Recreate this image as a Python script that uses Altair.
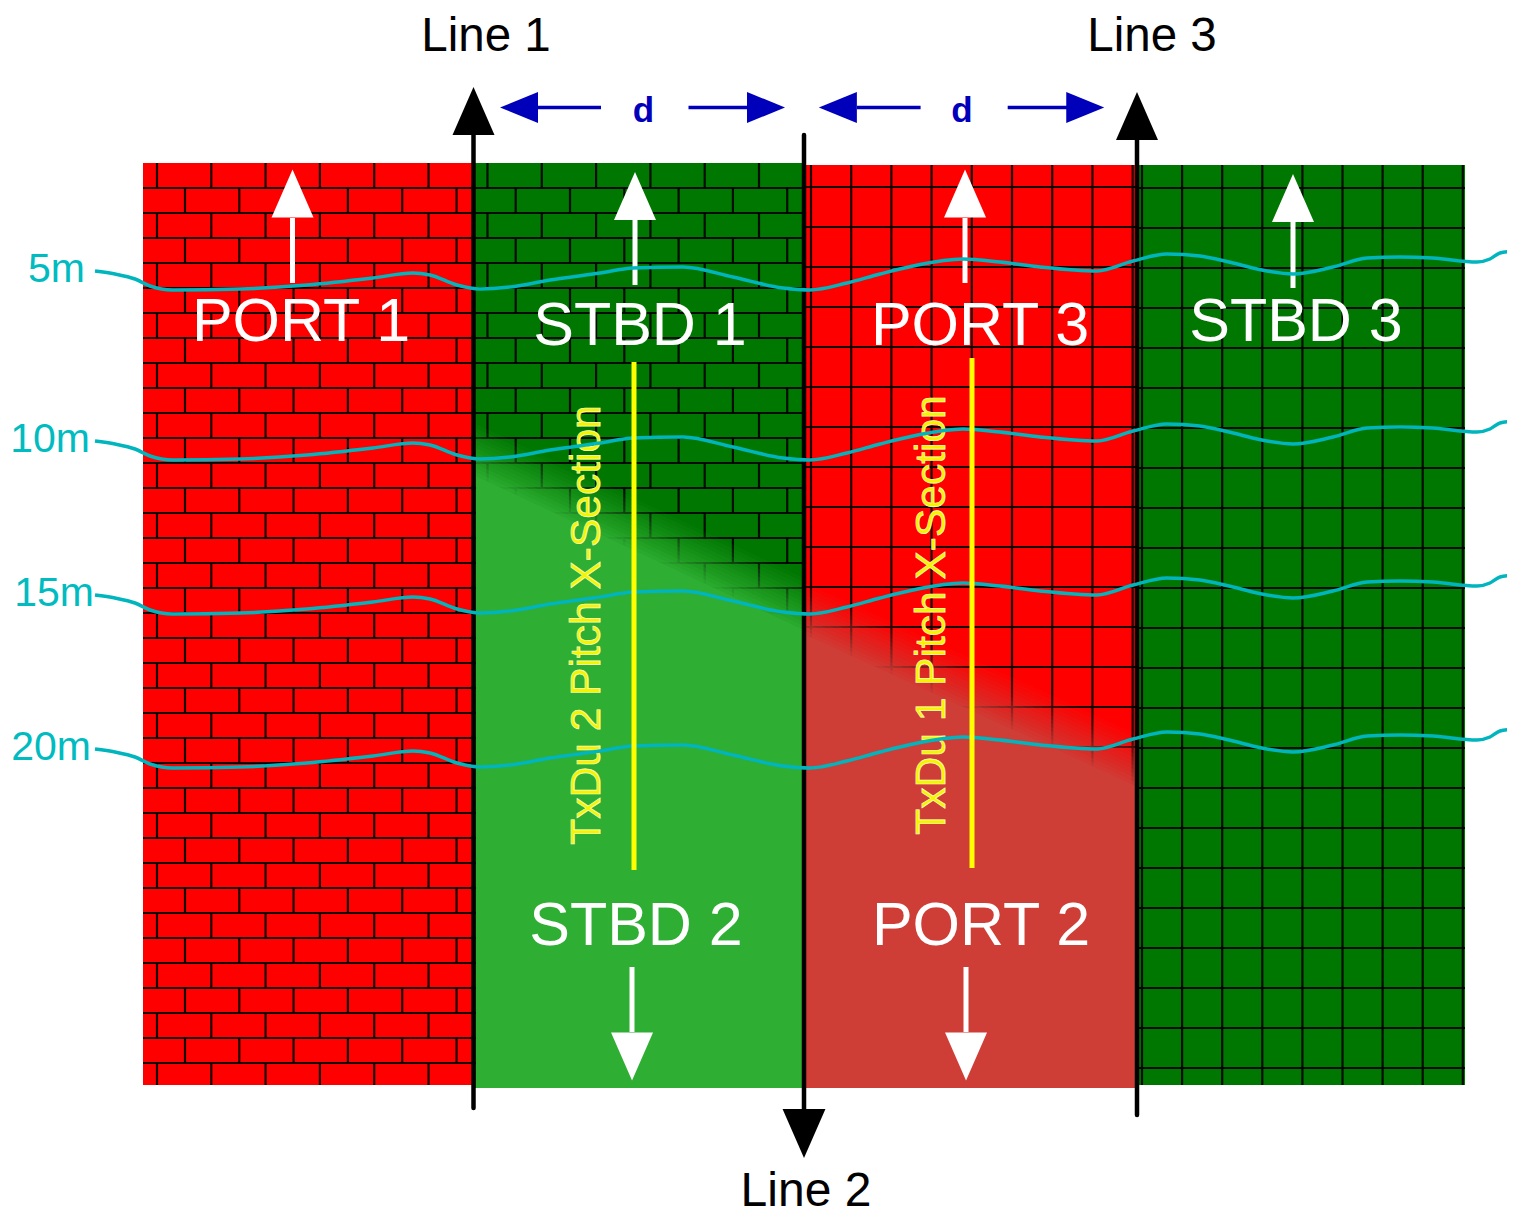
import altair as alt
import pandas as pd

# ---------------- coordinate frame (diagram pixels) ----------------
X_DOMAIN = [8, 1507]
Y_DOMAIN = [8, 1217]

# ---------------- zones / panels ----------------
panel_x0 = [143, 474, 805, 1137]
panel_x1 = [473, 804, 1136, 1465]
panel_y0 = [163, 163, 165, 165]
panel_y1 = [1085, 1088, 1088, 1085]
panel_fill = ["#ff0000", "#007700", "#ff0000", "#007700"]

# brick texture (PORT 1, STBD 1)
brick_panels = [0, 1]
brick_row_h = 25
brick_first_line = 188
brick_w = 54.3
brick_offsets = [(157, 185), (487.5, 515.7)]

# square-grid texture (PORT 3, STBD 3)
grid_panels = [2, 3]
grid_x_start = [811, 1142]
grid_step_x = [40.2, 40.1]
grid_y_start = [187, 188]
grid_step_y = 40

# lighter lower zones (STBD 2, PORT 2) with a soft diagonal edge
fade_x = [[476, 804], [806, 1136]]
fade_center = [[450, 604], [609, 760]]
fade_bottom = [1088, 1088]
fade_color = ["#2eae32", "#cf3e36"]
fade_half = 26
fade_steps = 14

# zone labels
zone_labels = ["PORT 1", "STBD 1", "PORT 3", "STBD 3", "STBD 2", "PORT 2"]
zone_label_x = [301, 640, 980, 1296, 636, 981]
zone_label_y = [341, 345, 345, 341, 945, 945]

# white direction arrows
up_arrow_x = [292.5, 635, 965, 1293]
up_arrow_tip = [169, 172, 169, 174]
up_arrow_base = [218, 220, 218, 222]
up_arrow_end = [283, 285, 283, 288]
down_arrow_x = [632, 966]
down_arrow_start = [967, 967]
down_arrow_base = [1032, 1032]
down_arrow_tip = [1081, 1081]

# survey lines
line_labels = ["Line 1", "Line 2", "Line 3"]
line_x = [473.5, 804, 1137]
line_top = [135, 135, 140]
line_bottom = [1108, 1109, 1115]
line_label_x = [486, 806, 1152]
line_label_y = [51, 1206, 51]
line_label_size = [47.5, 48, 47.5]
up_head_lines = [0, 2]
up_head_tip = [87, 92]
up_head_base = [135, 140]
down_head_line = 1
down_head_base = 1109
down_head_tip = 1158

# spacing "d" arrows
d_y = 107.5
d_label_x = [643.5, 962]
d_left_tip = [500, 818.7]
d_left_base = [538, 857]
d_left_end = [601, 920.6]
d_right_start = [688.5, 1007.7]
d_right_base = [747, 1067.5]
d_right_tip = [785, 1103]

# pitch cross-section lines
pitch_labels = ["TxDu 2 Pitch X-Section", "TxDu 1 Pitch X-Section"]
pitch_x = [634, 972]
pitch_y0 = [362, 358]
pitch_y1 = [870, 868]
pitch_label_x = [600, 945]
pitch_label_y = [625, 615]

# depth contours (5 m profile, other depths share the shape)
depth_labels = ["5m", "10m", "15m", "20m"]
depth_shift = [0, 170, 324, 478]
depth_label_x = [85, 90, 94, 91]
depth_label_y = [282, 452, 606, 760]
wave_x = [95, 115, 135, 150, 173, 240, 307, 373, 413, 430, 457, 480, 510, 550,
          600, 633, 683, 733, 783, 810, 847, 880, 913, 963, 1000, 1040, 1097,
          1133, 1167, 1200, 1233, 1267, 1293, 1333, 1367, 1400, 1433, 1477,
          1490, 1500, 1515]
wave_y = [271, 274, 279, 286, 290, 289, 285, 278, 273, 275, 285, 289, 287, 280,
          273, 268, 267, 277, 288, 290, 283, 274, 266, 259, 262, 267, 271,
          261, 254, 256, 263, 271, 274, 267, 258, 257, 258, 262,
          259, 253, 251]

FONT = "Liberation Sans"

# ---------------- data tables ----------------
panels_df = pd.DataFrame(dict(x=panel_x0, x2=panel_x1, y=panel_y0, y2=panel_y1, c=panel_fill))

tex_h, tex_v = [], []
for pi, (oe, oo) in zip(brick_panels, brick_offsets):
    x0, x1, y0, y1 = panel_x0[pi], panel_x1[pi], panel_y0[pi], panel_y1[pi]
    bounds = [y0]
    yy = brick_first_line
    while yy < y1 - 3:
        bounds.append(yy)
        yy += brick_row_h
    bounds.append(y1)
    for yy in bounds[1:-1]:
        tex_h.append(dict(x=x0, x2=x1, y=yy))
    for r in range(len(bounds) - 1):
        off = oe if r % 2 == 0 else oo
        xx = off
        while xx - brick_w > x0:
            xx -= brick_w
        while xx < x1 - 2:
            if xx > x0 + 2:
                tex_v.append(dict(x=xx, y=bounds[r], y2=bounds[r + 1]))
            xx += brick_w
for gi, pi in enumerate(grid_panels):
    x0, x1, y0, y1 = panel_x0[pi], panel_x1[pi], panel_y0[pi], panel_y1[pi]
    xx = grid_x_start[gi]
    while xx <= x1:
        tex_v.append(dict(x=xx, y=y0, y2=y1))
        xx += grid_step_x[gi]
    yy = grid_y_start[gi]
    while yy < y1:
        tex_h.append(dict(x=x0, x2=x1, y=yy))
        yy += grid_step_y
tex_h_df = pd.DataFrame(tex_h)
tex_v_df = pd.DataFrame(tex_v)

fade_dfs = []
for z in range(2):
    rows = []
    for k in range(fade_steps):
        o = -fade_half + 2 * fade_half * k / (fade_steps - 1)
        a = 1.0 / (fade_steps - k)
        for xi in range(2):
            rows.append(dict(layer=k, x=fade_x[z][xi], y=fade_center[z][xi] + o,
                             y2=fade_bottom[z], a=a))
    fade_dfs.append(pd.DataFrame(rows))

wave_rows = []
for lab, s in zip(depth_labels, depth_shift):
    for i, (xv, yv) in enumerate(zip(wave_x, wave_y)):
        wave_rows.append(dict(depth=lab, i=i, x=xv, y=yv + s))
wave_df = pd.DataFrame(wave_rows)

# ---------------- encoders ----------------
xs = alt.Scale(domain=X_DOMAIN, nice=False, zero=False)
ys = alt.Scale(domain=Y_DOMAIN, nice=False, zero=False, reverse=True)


def X(f="x"):
    return alt.X(f + ":Q", scale=xs, axis=None)


def Y(f="y"):
    return alt.Y(f + ":Q", scale=ys, axis=None, stack=None)


UP_HEAD_W = "M-0.875,1L0,-1L0.875,1Z"
DOWN_HEAD_W = "M-0.875,-1L0,1L0.875,-1Z"
LEFT_HEAD = "M-1,0L1,-0.816L1,0.816Z"
RIGHT_HEAD = "M1,0L-1,-0.816L-1,0.816Z"

layers = []

# panels
layers.append(alt.Chart(panels_df).mark_rect().encode(
    x=X(), x2="x2:Q", y=Y(), y2="y2:Q",
    color=alt.Color("c:N", scale=None)))

# textures
layers.append(alt.Chart(tex_h_df).mark_rule(color="#000000", strokeWidth=2.2, opacity=0.9).encode(
    x=X(), x2="x2:Q", y=Y()))
layers.append(alt.Chart(tex_v_df).mark_rule(color="#000000", strokeWidth=2.2, opacity=0.9).encode(
    x=X(), y=Y(), y2="y2:Q"))

# fading light zones
for z in range(2):
    layers.append(alt.Chart(fade_dfs[z]).mark_area(color=fade_color[z], interpolate="linear").encode(
        x=X(), y=Y(), y2="y2:Q", detail="layer:N",
        opacity=alt.Opacity("a:Q", scale=None)))

# white arrows
ua = pd.DataFrame(dict(x=up_arrow_x, y=up_arrow_base, y2=up_arrow_end,
                       ym=[(a + b) / 2 for a, b in zip(up_arrow_tip, up_arrow_base)]))
da = pd.DataFrame(dict(x=down_arrow_x, y=down_arrow_start, y2=down_arrow_base,
                       ym=[(a + b) / 2 for a, b in zip(down_arrow_tip, down_arrow_base)]))
for df, shp in [(ua, UP_HEAD_W), (da, DOWN_HEAD_W)]:
    layers.append(alt.Chart(df).mark_rule(color="white", strokeWidth=5).encode(
        x=X(), y=Y(), y2="y2:Q"))
    layers.append(alt.Chart(df).mark_point(shape=shp, size=48 * 48, filled=True, color="white",
                                           opacity=1, strokeWidth=0).encode(x=X(), y=Y("ym")))

# zone labels
zl = pd.DataFrame(dict(x=zone_label_x, y=zone_label_y, t=zone_labels))
layers.append(alt.Chart(zl).mark_text(font=FONT, fontSize=61, color="white", align="center",
                                      baseline="alphabetic").encode(x=X(), y=Y(), text="t:N"))

# pitch labels
pl = pd.DataFrame(dict(x=pitch_label_x, y=pitch_label_y, t=pitch_labels))
layers.append(alt.Chart(pl).mark_text(font=FONT, fontSize=42.5, color="#f4f400", stroke="#ffffc0",
                                      strokeWidth=0.7, angle=270, align="center",
                                      baseline="alphabetic").encode(x=X(), y=Y(), text="t:N"))

# survey lines
ld = pd.DataFrame(dict(x=line_x, y=line_top, y2=line_bottom))
layers.append(alt.Chart(ld).mark_rule(color="black", strokeWidth=4.5, strokeCap="round").encode(
    x=X(), y=Y(), y2="y2:Q"))
uh = pd.DataFrame(dict(x=[line_x[i] for i in up_head_lines],
                       ym=[(a + b) / 2 for a, b in zip(up_head_tip, up_head_base)]))
layers.append(alt.Chart(uh).mark_point(shape=UP_HEAD_W, size=48 * 48, filled=True, color="black",
                                       opacity=1, strokeWidth=0).encode(x=X(), y=Y("ym")))
dh = pd.DataFrame(dict(x=[line_x[down_head_line]], ym=[(down_head_base + down_head_tip) / 2]))
layers.append(alt.Chart(dh).mark_point(shape=DOWN_HEAD_W, size=49 * 49, filled=True, color="black",
                                       opacity=1, strokeWidth=0).encode(x=X(), y=Y("ym")))

# depth contours
layers.append(alt.Chart(wave_df).mark_line(color="#00b5bd", strokeWidth=3.5, interpolate="monotone").encode(
    x=X(), y=Y(), detail="depth:N", order="i:Q"))

# pitch lines
pd_ = pd.DataFrame(dict(x=pitch_x, y=pitch_y0, y2=pitch_y1))
layers.append(alt.Chart(pd_).mark_rule(color="#ffff00", strokeWidth=5).encode(x=X(), y=Y(), y2="y2:Q"))

# depth labels
dl = pd.DataFrame(dict(x=depth_label_x, y=depth_label_y, t=depth_labels))
layers.append(alt.Chart(dl).mark_text(font=FONT, fontSize=41, color="#00bcc0", align="right",
                                      baseline="alphabetic").encode(x=X(), y=Y(), text="t:N"))

# line labels
ll = pd.DataFrame(dict(x=line_label_x, y=line_label_y, t=line_labels, s=line_label_size))
layers.append(alt.Chart(ll).mark_text(font=FONT, color="black", align="center",
                                      baseline="alphabetic").encode(
    x=X(), y=Y(), text="t:N", size=alt.Size("s:Q", scale=None)))

# d arrows
dsh = pd.DataFrame(dict(x=d_left_base + d_right_start, x2=d_left_end + d_right_base, y=[d_y] * 4))
layers.append(alt.Chart(dsh).mark_rule(color="#0000bb", strokeWidth=3.5).encode(x=X(), x2="x2:Q", y=Y()))
dlh = pd.DataFrame(dict(x=[(a + b) / 2 for a, b in zip(d_left_tip, d_left_base)], y=[d_y] * 2))
drh = pd.DataFrame(dict(x=[(a + b) / 2 for a, b in zip(d_right_tip, d_right_base)], y=[d_y] * 2))
for df, shp in [(dlh, LEFT_HEAD), (drh, RIGHT_HEAD)]:
    layers.append(alt.Chart(df).mark_point(shape=shp, size=38 * 38, filled=True, color="#0000bb",
                                           opacity=1, strokeWidth=0).encode(x=X(), y=Y()))
dt = pd.DataFrame(dict(x=d_label_x, y=[122] * 2, t=["d", "d"]))
layers.append(alt.Chart(dt).mark_text(font=FONT, fontSize=35, fontWeight="bold", color="#0000bb",
                                      align="center", baseline="alphabetic").encode(x=X(), y=Y(), text="t:N"))

chart = alt.layer(*layers).properties(
    width=1499, height=1209, padding=0, autosize="none", background="white"
).configure_view(stroke=None)

chart.save("out.html", embed_options={"renderer": "svg", "actions": False})
